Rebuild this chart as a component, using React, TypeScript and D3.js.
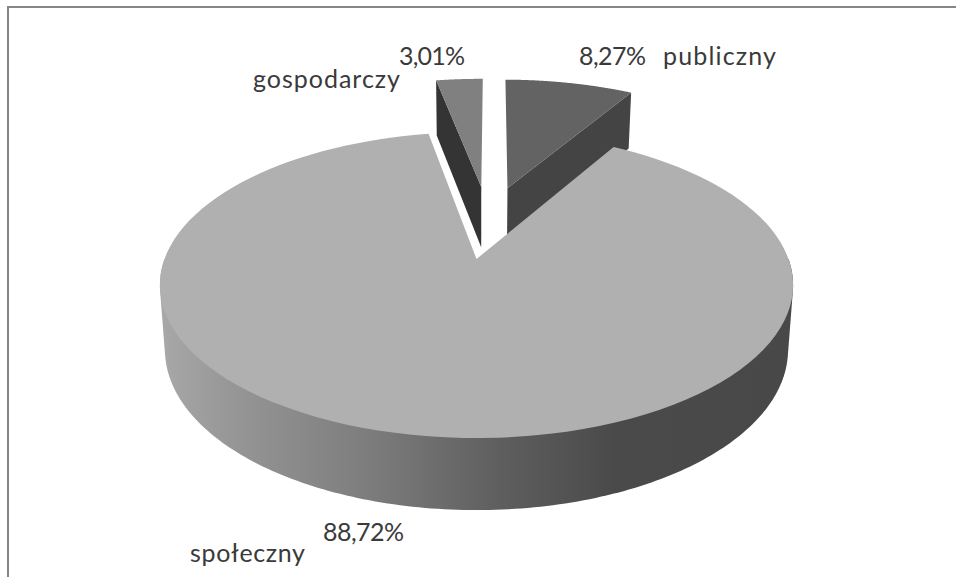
import React from "react";
import * as d3 from "d3";

const categories = ["publiczny", "społeczny", "gospodarczy"];
const shares = [8.27, 88.72, 3.01];
const shareLabels = ["8,27%", "88,72%", "3,01%"];
const topColors = ["#636363", "#b0b0b0", "#808080"];
const wallColors = ["#444444", "none", "#343434"];
const rampStops: [number, string][] = [
  [0, "#a8a8a8"], [0.13, "#949494"], [0.32, "#7e7e7e"], [0.54, "#5e5e5e"], [0.72, "#4a4a4a"], [1, "#484848"],
];

const W = 956, H = 577;
const cx = 476.5, k = 0.17;
const top = { y0: 259, Ry: 148.6, R: 312 };
const bot = { y0: 322.6, Ry: 155.6, R: 307 };
const EXPLODE = 0.26;
const NUDGE_U = -0.006, NUDGE_V = 0.012;
const ROT = (0.5 * Math.PI) / 180;

type Plane = typeof top;
const project = (p: Plane, u: number, v: number): [number, number] => {
  const d = 1 + k * v;
  return [cx + (p.R * u) / d, p.y0 - (p.Ry * v) / d];
};

const arcs = d3.pie<number>().sort(null).startAngle(ROT).endAngle(ROT + 2 * Math.PI)(shares);
const mid = (a: { startAngle: number; endAngle: number }) => (a.startAngle + a.endAngle) / 2;
// Excel explodes every slice away from a common centre; the big slice is the origin of the plane.
const main = arcs[1];
const oU = -Math.sin(mid(main)) * EXPLODE + NUDGE_U;
const oV = -Math.cos(mid(main)) * EXPLODE + NUDGE_V;
const offset = (i: number): [number, number] =>
  i === 1 ? [0, 0] : [oU + Math.sin(mid(arcs[i])) * EXPLODE, oV + Math.cos(mid(arcs[i])) * EXPLODE];

const rim = (p: Plane, i: number, a: number) => {
  const [du, dv] = offset(i);
  return project(p, du + Math.sin(a), dv + Math.cos(a));
};
const apex = (p: Plane, i: number) => {
  const [du, dv] = offset(i);
  return project(p, du, dv);
};
const line = d3.line().curve(d3.curveLinear);
const sweep = (s: number, e: number, n = 120) => d3.range(0, n + 1).map((t) => s + ((e - s) * t) / n);

const slicePath = (i: number) =>
  line([apex(top, i), ...sweep(arcs[i].startAngle, arcs[i].endAngle).map((a) => rim(top, i, a))])! + "Z";

// the cut face seen on each exploded slice
const wallPath = (i: number, edge: number) =>
  line([apex(top, i), rim(top, i, edge), rim(bot, i, edge), apex(bot, i)])! + "Z";

// outer wall of the big slice: only the half that faces the viewer
const frontAngles = sweep(Math.PI / 2, (3 * Math.PI) / 2, 180);
const hull = d3.polygonHull(frontAngles.flatMap((a) => [rim(top, 1, a), rim(bot, 1, a)]) as [number, number][])!;
const sideX = d3.scaleLinear().domain([0, 1]).range([160, 792]);

const labelFont = "Lato, Carlito, sans-serif";
const labelSize = 25;
const labels = [
  { text: categories[2], x: 253, y: 88, w: 147 },
  { text: shareLabels[2], x: 399, y: 65, w: 66 },
  { text: shareLabels[0], x: 579, y: 65, w: 67 },
  { text: categories[0], x: 663, y: 65, w: 113 },
  { text: shareLabels[1], x: 323, y: 541, w: 81 },
  { text: categories[1], x: 190, y: 562, w: 115 },
];

export default function App() {
  return (
    <svg
      width={W}
      height={H}
      viewBox={`0 0 ${W} ${H}`}
      style={{ position: "fixed", left: 0, top: 0, background: "#fff" }}
    >
      <defs>
        <linearGradient id="side" gradientUnits="userSpaceOnUse" x1={sideX(0)} x2={sideX(1)} y1={0} y2={0}>
          {rampStops.map(([o, c]) => (
            <stop key={o} offset={o} stopColor={c} />
          ))}
        </linearGradient>
      </defs>
      <path d={`M8 577V7H${W}`} fill="none" stroke="#868686" strokeWidth={2} />
      {[0, 2].map((i) => (
        <g key={categories[i]}>
          <path d={wallPath(i, i === 0 ? arcs[i].endAngle : arcs[i].startAngle)} fill={wallColors[i]} />
          <path d={slicePath(i)} fill={topColors[i]} />
        </g>
      ))}
      <path d={line(hull)! + "Z"} fill="url(#side)" />
      <path d={slicePath(1)} fill={topColors[1]} />
      {labels.map((l) => (
        <text
          key={l.text}
          x={l.x}
          y={l.y}
          textLength={l.w}
          lengthAdjust="spacing"
          fontFamily={labelFont}
          fontSize={labelSize}
          fill="#3a3a3a"
        >
          {l.text}
        </text>
      ))}
    </svg>
  );
}
